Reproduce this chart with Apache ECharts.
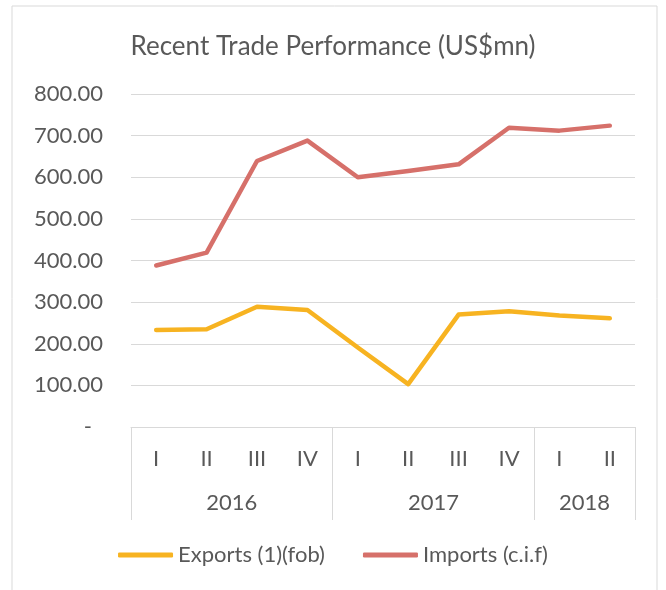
<!DOCTYPE html>
<html>
<head>
<meta charset="utf-8">
<script src="https://cdn.jsdelivr.net/npm/echarts@6/dist/echarts.min.js"></script>
<style>
html, body { margin: 0; padding: 0; background: #fff; }
#chart { width: 666px; height: 590px; }
</style>
</head>
<body>
<div id="chart"></div>
<script>
// data
var quarters = ['I', 'II', 'III', 'IV', 'I', 'II', 'III', 'IV', 'I', 'II'];
var years = ['2016', '2017', '2018'];
var quartersPerYear = [4, 4, 2];
var exportsFob = [233, 235, 289, 281, 191, 103, 270, 278, 268, 261];
var importsCif = [388, 419, 639, 688, 600, 615, 631, 719, 712, 724];
var yMin = 0, yMax = 800, yStep = 100;

// year group boundaries and label centres
var groupStarts = [];
var yearCenters = {};
var acc = 0;
years.forEach(function (y, i) {
  groupStarts.push(acc);
  yearCenters[acc + quartersPerYear[i] / 2] = y;
  acc += quartersPerYear[i];
});

var txt = '#595959';
var gridColor = '#d9d9d9';
var font = 'Lato';
var fs = 22;

var chart = echarts.init(document.getElementById('chart'));
var option = {
  backgroundColor: '#fff',
  animation: false,
  graphic: [{
    type: 'rect',
    shape: { x: 12, y: 6, width: 645, height: 620 },
    style: { fill: 'none', stroke: gridColor, lineWidth: 1 }
  }],
  title: {
    text: 'Recent Trade Performance (US$mn)',
    left: 'center',
    top: 29,
    textStyle: { fontFamily: font, fontSize: 26, fontWeight: 'normal', color: txt }
  },
  legend: {
    bottom: 19,
    left: 'center',
    itemWidth: 55,
    itemHeight: 5,
    itemGap: 38,
    icon: 'roundRect',
    textStyle: { fontFamily: font, fontSize: fs, color: txt },
    data: ['Exports (1)(fob)', 'Imports (c.i.f)']
  },
  grid: { left: 131, right: 31, top: 94, bottom: 163 },
  xAxis: [
    {
      type: 'category',
      data: quarters,
      boundaryGap: true,
      axisLine: { show: true, lineStyle: { color: gridColor, width: 1 } },
      axisTick: {
        show: true,
        length: 93,
        interval: function (idx) { return groupStarts.indexOf(idx) >= 0; },
        lineStyle: { color: gridColor, width: 1 }
      },
      axisLabel: { interval: 0, margin: 21, fontFamily: font, fontSize: fs, color: txt },
      splitLine: { show: false }
    },
    {
      type: 'value',
      min: 0,
      max: quarters.length,
      interval: 1,
      position: 'bottom',
      axisLine: { show: false },
      axisTick: { show: false },
      splitLine: { show: false },
      axisLabel: {
        margin: 65,
        fontFamily: font,
        fontSize: fs,
        color: txt,
        formatter: function (v) { return yearCenters[v] || ''; }
      }
    }
  ],
  yAxis: {
    type: 'value',
    min: yMin,
    max: yMax,
    interval: yStep,
    axisLine: { show: false },
    axisTick: { show: false },
    splitLine: { lineStyle: { color: gridColor, width: 1 } },
    axisLabel: {
      margin: 28,
      fontFamily: font,
      fontSize: fs,
      color: txt,
      formatter: function (v) { return v === 0 ? '{d|-}' : v.toFixed(2); },
      rich: { d: { fontFamily: font, fontSize: fs, color: txt, padding: [0, 11, 0, 0] } }
    }
  },
  series: [
    {
      name: 'Exports (1)(fob)',
      type: 'line',
      xAxisIndex: 0,
      data: exportsFob,
      showSymbol: false,
      symbol: 'none',
      color: '#F7B321',
      lineStyle: { width: 4.5, color: '#F7B321', cap: 'round', join: 'round' }
    },
    {
      name: 'Imports (c.i.f)',
      type: 'line',
      xAxisIndex: 0,
      data: importsCif,
      showSymbol: false,
      symbol: 'none',
      color: '#D6706A',
      lineStyle: { width: 4.5, color: '#D6706A', cap: 'round', join: 'round' }
    }
  ]
};
chart.setOption(option);
</script>
</body>
</html>
